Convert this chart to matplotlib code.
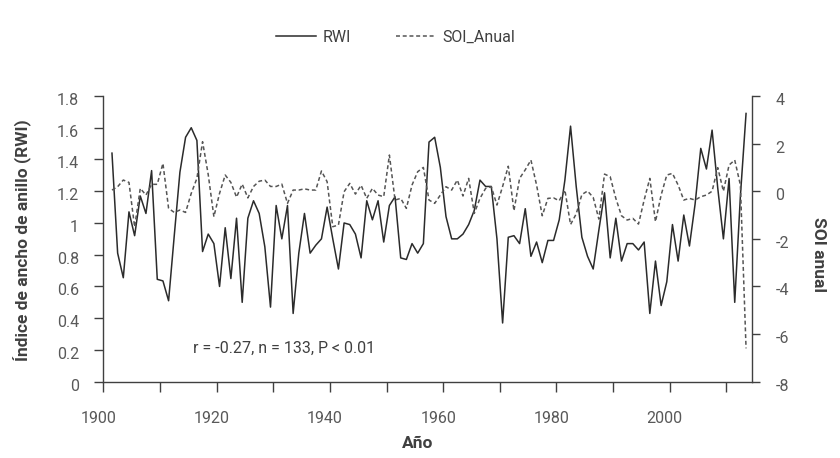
import numpy as np
import matplotlib
matplotlib.use("Agg")
import matplotlib.pyplot as plt
from matplotlib.transforms import ScaledTranslation

plt.rcParams['font.family'] = ['Roboto', 'DejaVu Sans']
plt.rcParams['axes.unicode_minus'] = False

# ---- data ----
years = np.arange(1901, 2014)

rwi = [1.44, 0.81, 0.655, 1.07, 0.92, 1.17, 1.06, 1.33, 0.645, 0.635,
       0.51, 0.92, 1.32, 1.54, 1.60, 1.52, 0.82, 0.93, 0.87, 0.60,
       0.97, 0.65, 1.03, 0.50, 1.03, 1.14, 1.06, 0.85, 0.47, 1.11,
       0.90, 1.11, 0.43, 0.81, 1.06, 0.81, 0.86, 0.90, 1.10, 0.90,
       0.71, 1.00, 0.99, 0.93, 0.78, 1.14, 1.02, 1.14, 0.88, 1.11,
       1.165, 0.78, 0.77, 0.87, 0.81, 0.87, 1.51, 1.54, 1.35, 1.04,
       0.90, 0.90, 0.93, 0.99, 1.08, 1.27, 1.23, 1.23, 0.90, 0.37,
       0.91, 0.92, 0.87, 1.09, 0.79, 0.88, 0.75, 0.89, 0.89, 1.02,
       1.27, 1.61, 1.23, 0.91, 0.79, 0.71, 0.955, 1.19, 0.78, 1.03,
       0.76, 0.87, 0.87, 0.83, 0.88, 0.43, 0.76, 0.48, 0.63, 0.99,
       0.76, 1.05, 0.855, 1.12, 1.47, 1.34, 1.585, 1.22, 0.90, 1.28,
       0.50, 1.17, 1.69]

soi = [0.05, 0.19, 0.47, 0.37, -1.5, 0.12, -0.16, 0.29, 0.29, 1.17,
       -0.72, -0.89, -0.79, -0.89, -0.09, 0.54, 2.08, 0.7, -1.07, -0.09,
       0.68, 0.37, -0.25, 0.3, -0.28, 0.2, 0.42, 0.47, 0.2, 0.2,
       0.3, -0.51, 0.05, 0.05, 0.1, 0.05, 0.05, 0.85, 0.4, -1.49,
       -1.42, -0.02, 0.33, -0.12, 0.25, -0.3, 0.12, -0.16, -0.23, 1.52,
       -0.37, -0.3, -0.72, 0.26, 0.82, 1.0, -0.37, -0.51, -0.16, 0.19,
       0.05, 0.47, -0.2, 0.54, -0.93, -0.3, 0.12, 0.19, -0.58, 0.2,
       1.05, -0.82, 0.54, 0.9, 1.31, 0.26, -1.03, -0.3, -0.28, -0.4,
       0.05, -1.4, -0.95, -0.14, 0.01, -0.26, -1.17, 0.72, 0.61, -0.3,
       -1.03, -1.21, -1.14, -1.38, -0.37, 0.54, -1.28, -0.16, 0.68, 0.75,
       0.26, -0.37, -0.3, -0.37, -0.23, -0.16, 0.0, 0.99, 0.0, 1.1,
       1.31, 0.26, -6.6]

x_label_years = [1900, 1920, 1940, 1960, 1980, 2000]
left_ticks = [0, 0.2, 0.4, 0.6, 0.8, 1, 1.2, 1.4, 1.6, 1.8]
left_ticklabels = ['0', '0.2', '0.4', '0.6', '0.8', '1', '1.2', '1.4', '1.6', '1.8']
right_ticks = [-8, -6, -4, -2, 0, 2, 4]

annotation = "r = -0.27, n = 133, P < 0.01"

# ---- figure ----
axis_col = '#404040'
tick_col = '#595959'

fig = plt.figure(figsize=(8.4, 4.58), dpi=100)
ax = fig.add_axes([0.1232, 0.1666, 0.7717, 0.6238])
ax2 = ax.twinx()

xpos = years + 0.5  # points centred inside each year interval
l1, = ax.plot(xpos, rwi, color='#2b2b2b', lw=1.1, label='RWI')
l2, = ax2.plot(xpos, soi, color='#555555', lw=1.1, dashes=(2.6, 1.8), label='SOI_Anual')

ax.set_xlim(1900, 2014.5)
ax.set_ylim(0, 1.8)
ax2.set_ylim(-8, 4)

ax.set_xticks(x_label_years)
ax.set_xticks(np.arange(1910, 2020, 20), minor=True)
ax.set_xticklabels([str(y) for y in x_label_years])
ax.set_yticks(left_ticks)
ax.set_yticklabels(left_ticklabels)
ax2.set_yticks(right_ticks)
ax2.set_yticklabels([str(v) for v in right_ticks])

for a in (ax, ax2):
    a.spines['top'].set_visible(False)
    for s in ('left', 'right', 'bottom'):
        a.spines[s].set_color(axis_col)
        a.spines[s].set_linewidth(1.0)

ax.spines['right'].set_visible(False)
ax2.spines['left'].set_visible(False)
ax2.spines['bottom'].set_visible(False)

ax.tick_params(axis='x', which='both', direction='out', length=7, width=1.0,
               color=axis_col, labelcolor=tick_col, labelsize=11.5, pad=14)
ax.tick_params(axis='y', direction='out', length=6.5, width=1.0,
               color=axis_col, labelcolor=tick_col, labelsize=11.5, pad=11)
ax2.tick_params(axis='y', direction='out', length=6, width=1.0,
                color=axis_col, labelcolor=tick_col, labelsize=11.5, pad=11)

shift = ScaledTranslation(-5 / 100, 0, fig.dpi_scale_trans)
for lab in ax.get_xticklabels():
    lab.set_transform(lab.get_transform() + shift)
shift_y = ScaledTranslation(0, -3 / 100, fig.dpi_scale_trans)
for lab in ax.get_yticklabels() + ax2.get_yticklabels():
    lab.set_transform(lab.get_transform() + shift_y)

ax.text(1915.8, 0.21, annotation, fontsize=11.5, color='#404040', va='center', ha='left')

fig.text(0.027, 0.476, 'Índice de ancho de anillo (RWI)', rotation=90, fontsize=12.5,
         fontweight='bold', color='#404040', ha='center', va='center')
fig.text(0.974, 0.445, 'SOI anual', rotation=270, fontsize=12.5,
         fontweight='bold', color='#404040', ha='center', va='center')
fig.text(0.497, 0.031, 'Año', fontsize=12.5, fontweight='bold', color='#404040',
         ha='center', va='center')

fig.legend(handles=[l1, l2], loc='center', bbox_to_anchor=(0.471, 0.919), ncol=2,
           frameon=False, fontsize=11.5, handlelength=2.5, handletextpad=0.4,
           columnspacing=2.8, labelcolor='#404040')

fig.savefig('out.png', dpi=100)
